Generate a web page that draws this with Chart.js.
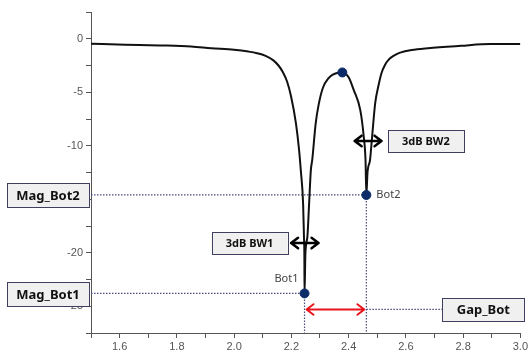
<!DOCTYPE html>
<html>
<head>
<meta charset="utf-8">
<script src="https://cdn.jsdelivr.net/npm/chart.js@4.4.1/dist/chart.umd.min.js"></script>
<style>
  html, body { margin: 0; padding: 0; background: #fff; }
  #wrap { width: 530px; height: 355px; }
</style>
</head>
<body>
<div id="wrap"><canvas id="chart" width="530" height="355"></canvas></div>
<script>
// frequency (GHz) and magnitude (dB)
const freq = [1.50, 1.62, 1.74, 1.85, 1.92, 2.00, 2.05, 2.08, 2.11, 2.136, 2.155, 2.17, 2.185, 2.199, 2.216, 2.227, 2.233,
  2.241, 2.244, 2.2455, 2.246, 2.249, 2.256, 2.262, 2.268, 2.273, 2.285, 2.295, 2.31, 2.331, 2.345, 2.36, 2.378,
  2.40, 2.418, 2.441, 2.453, 2.459, 2.462, 2.466, 2.475, 2.481, 2.493, 2.505, 2.515, 2.527, 2.54, 2.56, 2.58, 2.62,
  2.677, 2.792, 2.895, 3.00];
const mag = [-0.47, -0.55, -0.62, -0.72, -0.88, -1.03, -1.2, -1.35, -1.6, -2.0, -2.5, -3.1, -4.0, -5.4, -7.9, -10.4, -12.3,
  -15.4, -18.5, -20.5, -23.8, -20.1, -18.5, -15.4, -12.3, -11.3, -7.9, -6.2, -4.6, -3.65, -3.35, -3.2, -3.15,
  -3.6, -4.8, -6.7, -9.2, -11.3, -14.6, -12.5, -11.3, -9.5, -6.0, -4.3, -3.2, -2.45, -1.95, -1.55, -1.3, -1.05,
  -0.88, -0.66, -0.5, -0.5];

// marked points
const markerNames = ['Bot1', 'Peak', 'Bot2'];
const markerFreq = [2.246, 2.378, 2.462];
const markerMag = [-23.8, -3.15, -14.6];

// tick labels shown on the axes
const xTickLabels = ['1.6', '1.8', '2.0', '2.2', '2.4', '2.6', '2.8', '3.0'];
const yTickLabels = ['0', '-5', '-10', '-15', '-20', '-25'];

// annotation boxes (text, anchor in data units)
const bw1Box = { text: '3dB BW1', x: 2.054, y: -19.1 };
const bw2Box = { text: '3dB BW2', x: 2.67, y: -9.55 };
const bw1Arrow = { from: 2.199, to: 2.295, y: -19.1 };
const bw2Arrow = { from: 2.421, to: 2.515, y: -9.55 };
const gapLevel = -25.3;

const dotColor = '#4b4b7d';
const markColor = '#0c2c68';

function box(ctx, cx, cy, w, h, text, size) {
  ctx.save();
  ctx.fillStyle = '#f0f0f0';
  ctx.strokeStyle = '#3f3f5f';
  ctx.lineWidth = 1;
  ctx.fillRect(cx - w / 2, cy - h / 2, w, h);
  ctx.strokeRect(Math.round(cx - w / 2) + 0.5, Math.round(cy - h / 2) + 0.5, w, h);
  ctx.fillStyle = '#111';
  ctx.font = 'bold ' + size + 'px "Noto Sans", sans-serif';
  ctx.textAlign = 'center';
  ctx.textBaseline = 'middle';
  ctx.fillText(text, cx, cy + 1);
  ctx.restore();
}

function arrow(ctx, x1, x2, y, color, width, head) {
  ctx.save();
  ctx.strokeStyle = color;
  ctx.lineWidth = width;
  ctx.lineCap = 'round';
  ctx.lineJoin = 'round';
  ctx.beginPath();
  ctx.moveTo(x1, y);
  ctx.lineTo(x2, y);
  ctx.moveTo(x1 + head, y - head * 0.75);
  ctx.lineTo(x1, y);
  ctx.lineTo(x1 + head, y + head * 0.75);
  ctx.moveTo(x2 - head, y - head * 0.75);
  ctx.lineTo(x2, y);
  ctx.lineTo(x2 - head, y + head * 0.75);
  ctx.stroke();
  ctx.restore();
}

function dotted(ctx, x1, y1, x2, y2) {
  ctx.save();
  ctx.strokeStyle = dotColor;
  ctx.lineWidth = 1.2;
  ctx.setLineDash([1.5, 1.5]);
  ctx.beginPath();
  ctx.moveTo(x1, y1);
  ctx.lineTo(x2, y2);
  ctx.stroke();
  ctx.restore();
}

const guides = {
  id: 'guides',
  beforeDatasetsDraw(chart) {
    const { ctx, chartArea, scales: { x, y } } = chart;
    const b1x = x.getPixelForValue(markerFreq[0]), b1y = y.getPixelForValue(markerMag[0]);
    const b2x = x.getPixelForValue(markerFreq[2]), b2y = y.getPixelForValue(markerMag[2]);
    const gy = y.getPixelForValue(gapLevel);
    dotted(ctx, chartArea.left, b2y, b2x, b2y);
    dotted(ctx, chartArea.left, b1y, b1x, b1y);
    dotted(ctx, b1x, b1y, b1x, chartArea.bottom);
    dotted(ctx, b2x, b2y, b2x, chartArea.bottom);
    dotted(ctx, b2x, gy, chartArea.right - 70, gy);
  },
  afterDraw(chart) {
    const { ctx, chartArea, scales: { x, y } } = chart;
    const b1x = x.getPixelForValue(markerFreq[0]), b1y = y.getPixelForValue(markerMag[0]);
    const b2x = x.getPixelForValue(markerFreq[2]), b2y = y.getPixelForValue(markerMag[2]);
    const gy = y.getPixelForValue(gapLevel);

    arrow(ctx, b1x + 2, b2x - 2, gy, '#e8141c', 2, 7);
    arrow(ctx, x.getPixelForValue(bw1Arrow.from), x.getPixelForValue(bw1Arrow.to),
      y.getPixelForValue(bw1Arrow.y), '#000', 2.5, 7);
    arrow(ctx, x.getPixelForValue(bw2Arrow.from), x.getPixelForValue(bw2Arrow.to),
      y.getPixelForValue(bw2Arrow.y), '#000', 2.5, 7);

    box(ctx, chartArea.left - 43, b2y, 82, 24, 'Mag_Bot2', 13);
    box(ctx, chartArea.left - 43, b1y + 0.5, 82, 24, 'Mag_Bot1', 13);
    box(ctx, chartArea.right - 37, gy, 82, 23, 'Gap_Bot', 13);
    box(ctx, x.getPixelForValue(bw1Box.x), y.getPixelForValue(bw1Box.y), 76, 22, bw1Box.text, 11);
    box(ctx, x.getPixelForValue(bw2Box.x), y.getPixelForValue(bw2Box.y), 76, 22, bw2Box.text, 11);

    ctx.save();
    ctx.fillStyle = '#444';
    ctx.font = '11px "Noto Sans", sans-serif';
    ctx.textBaseline = 'middle';
    ctx.textAlign = 'right';
    ctx.fillText(markerNames[0], b1x - 6, b1y - 15);
    ctx.textAlign = 'left';
    ctx.fillText(markerNames[2], b2x + 10, b2y);
    ctx.restore();
  }
};

const axisColor = '#555';
const tickFont = { family: '"Liberation Sans", Arial, sans-serif', size: 11 };

new Chart(document.getElementById('chart'), {
  type: 'line',
  data: {
    datasets: [
      {
        data: freq.map((f, i) => ({ x: f, y: mag[i] })),
        borderColor: '#111',
        borderWidth: 2,
        pointRadius: 0,
        cubicInterpolationMode: 'monotone',
        fill: false,
        order: 2
      },
      {
        type: 'scatter',
        data: markerFreq.map((f, i) => ({ x: f, y: markerMag[i] })),
        pointRadius: 4.5,
        pointBackgroundColor: markColor,
        pointBorderColor: markColor,
        showLine: false,
        order: 1
      }
    ]
  },
  options: {
    responsive: false,
    animation: false,
    devicePixelRatio: 1,
    layout: { padding: { top: 12, right: 8, left: 0, bottom: 0 } },
    plugins: { legend: { display: false }, tooltip: { enabled: false } },
    scales: {
      x: {
        type: 'linear',
        min: 1.5,
        max: 3.0,
        afterFit(s) { s.height = 22; },
        grid: { drawOnChartArea: false, tickLength: 5, color: axisColor, tickColor: axisColor },
        border: { color: axisColor, width: 1 },
        ticks: {
          stepSize: 0.1,
          autoSkip: false,
          maxRotation: 0,
          padding: 2,
          color: '#555',
          font: tickFont,
          callback(v) {
            const s = (Math.round(v * 10) / 10).toFixed(1);
            return xTickLabels.includes(s) ? s : '';
          }
        }
      },
      y: {
        type: 'linear',
        min: -27.5,
        max: 2.5,
        afterFit(s) { s.width = 91; },
        grid: { drawOnChartArea: false, tickLength: 5, color: axisColor, tickColor: axisColor },
        border: { color: axisColor, width: 1 },
        ticks: {
          stepSize: 2.5,
          autoSkip: false,
          padding: 3,
          color: '#555',
          font: tickFont,
          callback(v) {
            const s = String(Math.round(v * 10) / 10);
            return yTickLabels.includes(s) ? s : '';
          }
        }
      }
    }
  },
  plugins: [guides]
});
</script>
</body>
</html>
